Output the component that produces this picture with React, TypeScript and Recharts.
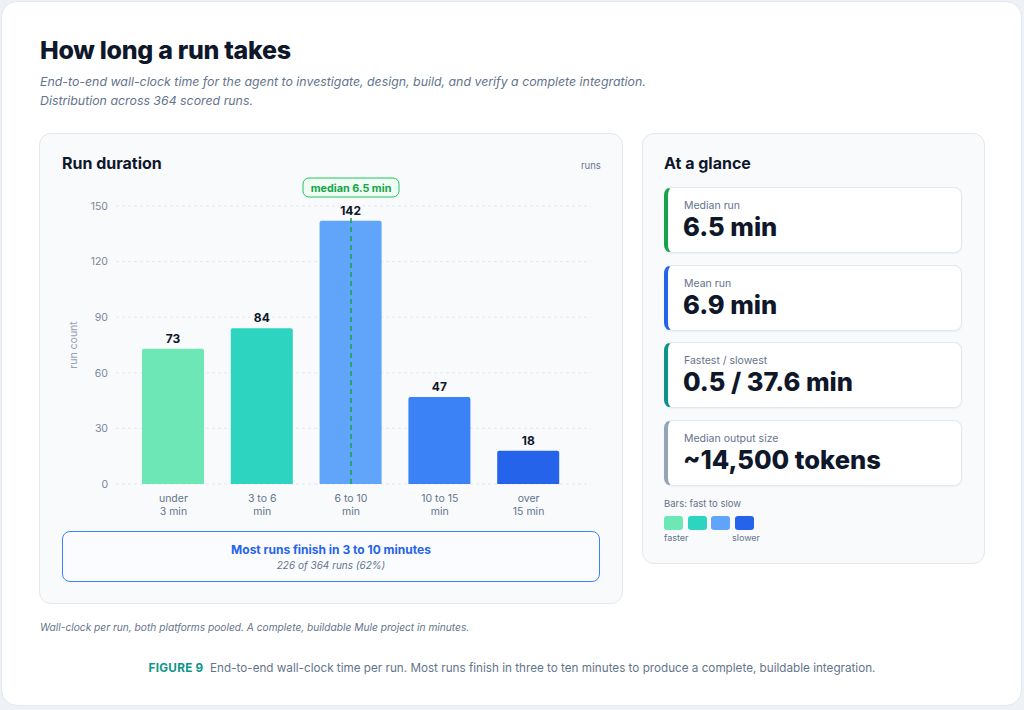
import { BarChart, Bar, XAxis, YAxis, CartesianGrid, Cell, LabelList, ReferenceLine } from 'recharts';

const categories = ['under 3 min', '3 to 6 min', '6 to 10 min', '10 to 15 min', 'over 15 min'];
const tickTop = ['under', '3 to 6', '6 to 10', '10 to 15', 'over'];
const tickBottom = ['3 min', 'min', 'min', 'min', '15 min'];
const runCounts = [73, 84, 142, 47, 18];
const barColors = ['#6ee7b7', '#2dd4bf', '#60a5fa', '#3b82f6', '#2563eb'];
const yTicks = [0, 30, 60, 90, 120, 150];
const medianBin = '6 to 10 min';

const stats = [
  { label: 'Median run', value: '6.5 min', accent: '#16a34a' },
  { label: 'Mean run', value: '6.9 min', accent: '#2563eb' },
  { label: 'Fastest / slowest', value: '0.5 / 37.6 min', accent: '#0d9488' },
  { label: 'Median output size', value: '~14,500 tokens', accent: '#94a3b8' },
];
const legendSwatches = ['#6ee7b7', '#2dd4bf', '#60a5fa', '#2563eb'];

const data = categories.map((c, i) => ({ bin: c, count: runCounts[i] }));

const FONT = 'Inter, "Noto Sans", sans-serif';

function CatTick(props: any) {
  const { x, y, payload } = props;
  const i = categories.indexOf(payload.value);
  return (
    <text x={x} y={y} textAnchor="middle" fill="#64748b" fontSize={10.5} fontFamily={FONT}>
      <tspan x={x} dy={10}>{tickTop[i]}</tspan>
      <tspan x={x} dy={13}>{tickBottom[i]}</tspan>
    </text>
  );
}

// green pill sitting above the median line
function MedianPill(props: any) {
  const vb = props.viewBox || {};
  const cx = vb.x;
  const top = vb.y;
  const w = 96;
  const h = 19;
  return (
    <g>
      <rect x={cx - w / 2} y={top - 28} width={w} height={h} rx={6} fill="#f0fdf4" stroke="#22c55e" strokeWidth={1} />
      <text x={cx} y={top - 18.5} dy={4} textAnchor="middle" fill="#16a34a" fontSize={10.8} fontWeight={700} fontFamily={FONT}>
        median 6.5 min
      </text>
    </g>
  );
}

export default function App() {
  return (
    <div style={{ position: 'relative', width: 1024, height: 710, background: '#eef1f5', fontFamily: FONT }}>
      <style>{`body{margin:0}`}</style>
      <div style={{
        position: 'absolute', left: 1, top: 1, width: 1019, height: 703, background: '#fff',
        border: '1px solid #e2e8f0', borderRadius: 16,
      }} />

      <div style={{ position: 'absolute', left: 40, top: 35, fontSize: 25, fontWeight: 800, color: '#0f172a', letterSpacing: -0.3, lineHeight: '30px' }}>
        How long a run takes
      </div>
      <div style={{ position: 'absolute', left: 40, top: 72, fontSize: 12.35, fontStyle: 'italic', color: '#64748b', lineHeight: '19px' }}>
        End-to-end wall-clock time for the agent to investigate, design, build, and verify a complete integration.<br />
        Distribution across 364 scored runs.
      </div>

      {/* left panel */}
      <div style={{
        position: 'absolute', left: 39, top: 133, width: 582, height: 469, background: '#f8fafc',
        border: '1px solid #e5e7eb', borderRadius: 12,
      }} />
      <div style={{ position: 'absolute', left: 62, top: 153, fontSize: 16, fontWeight: 700, color: '#0f172a', lineHeight: '20px' }}>
        Run duration
      </div>
      <div style={{ position: 'absolute', left: 581, top: 159, fontSize: 9.5, color: '#64748b', lineHeight: '14px' }}>runs</div>

      <div style={{ position: 'absolute', left: 40, top: 170 }}>
        <BarChart width={560} height={354} data={data} margin={{ top: 36, right: 9, left: 0, bottom: 0 }}>
          <CartesianGrid vertical={false} strokeDasharray="3 3" stroke="#e2e8f0" />
          <XAxis
            dataKey="bin" tick={<CatTick />} tickLine={false} axisLine={false} interval={0}
            height={40} padding={{ left: 13, right: 18 }}
          />
          <YAxis
            domain={[0, 150]} ticks={yTicks} width={76} tickLine={false} axisLine={false}
            tick={{ fill: '#7c8799', fontSize: 10.5, fontFamily: FONT }}
            label={{ value: 'run count', angle: -90, position: 'insideLeft', offset: 33, fill: '#94a3b8', fontSize: 10.5, style: { textAnchor: 'middle' } }}
          />
          <Bar dataKey="count" barSize={62} radius={[2, 2, 0, 0]} isAnimationActive={false}>
            {data.map((d, i) => <Cell key={d.bin} fill={barColors[i]} />)}
            <LabelList dataKey="count" position="top" offset={6} fill="#0f172a" fontSize={12} fontWeight={700} fontFamily={FONT} />
          </Bar>
          <ReferenceLine x={medianBin} stroke="#16a34a" strokeWidth={1.5} strokeDasharray="5 4" label={MedianPill} ifOverflow="visible" />
        </BarChart>
      </div>

      <div style={{
        position: 'absolute', left: 62, top: 531, width: 536, height: 49, border: '1px solid #3b82f6',
        borderRadius: 8, background: '#fafcff', textAlign: 'center',
      }}>
        <div style={{ marginTop: 10, fontSize: 12, fontWeight: 700, color: '#2563eb', lineHeight: '16px' }}>
          Most runs finish in 3 to 10 minutes
        </div>
        <div style={{ fontSize: 10, fontStyle: 'italic', color: '#64748b', lineHeight: '14px' }}>226 of 364 runs (62%)</div>
      </div>

      {/* right panel */}
      <div style={{
        position: 'absolute', left: 642, top: 133, width: 341, height: 429, background: '#f8fafc',
        border: '1px solid #e5e7eb', borderRadius: 12,
      }} />
      <div style={{ position: 'absolute', left: 664, top: 153, fontSize: 16, fontWeight: 700, color: '#0f172a', lineHeight: '20px' }}>
        At a glance
      </div>
      {stats.map((s, i) => (
        <div key={s.label} style={{
          position: 'absolute', left: 664, top: 187 + i * 77.7, width: 293, height: 64, background: '#fff',
          border: '1px solid #e2e8f0', borderLeft: `4px solid ${s.accent}`, borderRadius: 8,
          boxShadow: '0 1px 2px rgba(15,23,42,0.05)', boxSizing: 'content-box',
        }}>
          <div style={{ position: 'absolute', left: 16, top: 11, fontSize: 10.5, color: '#64748b', lineHeight: '14px' }}>{s.label}</div>
          <div style={{ position: 'absolute', left: 15, top: 24, fontSize: 25.5, fontWeight: 800, color: '#0f172a', lineHeight: '30px' }}>{s.value}</div>
        </div>
      ))}
      <div style={{ position: 'absolute', left: 664, top: 497, fontSize: 9.5, color: '#64748b', lineHeight: '14px' }}>Bars: fast to slow</div>
      {legendSwatches.map((c, i) => (
        <div key={c} style={{ position: 'absolute', left: 664 + i * 23.5, top: 516, width: 19, height: 14, background: c, borderRadius: 3 }} />
      ))}
      <div style={{ position: 'absolute', left: 664, top: 532, fontSize: 9, color: '#64748b', lineHeight: '12px' }}>faster</div>
      <div style={{ position: 'absolute', left: 732, top: 532, fontSize: 9, color: '#64748b', lineHeight: '12px' }}>slower</div>

      <div style={{ position: 'absolute', left: 40, top: 620, fontSize: 10.2, fontStyle: 'italic', color: '#64748b', lineHeight: '14px' }}>
        Wall-clock per run, both platforms pooled. A complete, buildable Mule project in minutes.
      </div>
      <div style={{ position: 'absolute', left: 0, width: 1024, top: 660, textAlign: 'center', fontSize: 11.7, color: '#64748b', lineHeight: '16px' }}>
        <span style={{ fontWeight: 700, color: '#0d9488', letterSpacing: 0.3 }}>FIGURE 9</span>&nbsp; End-to-end wall-clock time per run. Most runs finish in three to ten minutes to produce a complete, buildable integration.
      </div>
    </div>
  );
}
